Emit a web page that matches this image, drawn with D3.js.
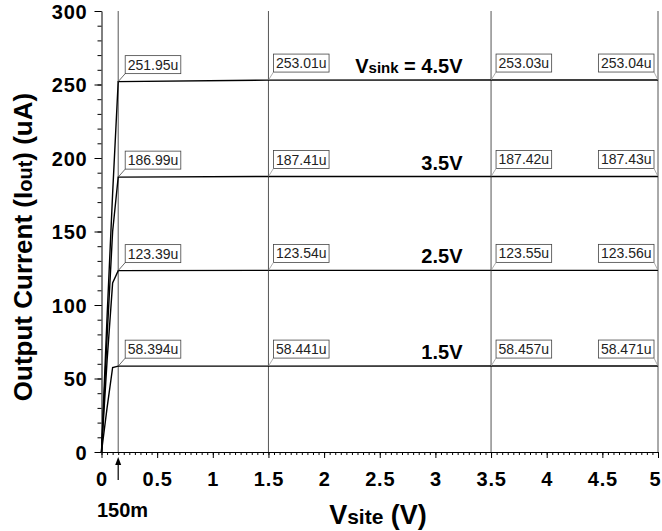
<!DOCTYPE html>
<html>
<head>
<meta charset="utf-8">
<script src="https://cdn.jsdelivr.net/npm/d3@7"></script>
<style>
  body { margin: 0; background: #fff; }
  text { font-family: Arial, "Liberation Sans", sans-serif; }
</style>
</head>
<body>
<svg id="chart" width="662" height="531"></svg>
<script>
// sweep points (V) and output current per Vsink (uA)
const vSite = [0, 0.05, 0.1, 0.15, 1.5, 3.5, 5];
const sinkNames = ["4.5V", "3.5V", "2.5V", "1.5V"];
const iSink45 = [0, 92, 176, 251.95, 253.01, 253.03, 253.04];
const iSink35 = [0, 78, 150, 186.99, 187.41, 187.42, 187.43];
const iSink25 = [0, 62, 115, 123.39, 123.54, 123.55, 123.56];
const iSink15 = [0, 30, 57.5, 58.394, 58.441, 58.457, 58.471];
const allSeries = [iSink45, iSink35, iSink25, iSink15];

// cursor positions (index into vSite)
const cursorIdx = [3, 4, 5, 6];
const xTicks = [0, 0.5, 1, 1.5, 2, 2.5, 3, 3.5, 4, 4.5, 5];
const yTicks = [0, 50, 100, 150, 200, 250, 300];

const margin = { top: 11, right: 4, bottom: 79, left: 101.5 };
const width = 662 - margin.left - margin.right;
const height = 531 - margin.top - margin.bottom;

const svg = d3.select("#chart");
const g = svg.append("g")
  .attr("transform", "translate(" + margin.left + "," + margin.top + ")");

const x = d3.scaleLinear().domain([0, 5]).range([0, width]);
const y = d3.scaleLinear().domain([0, 300]).range([height, 0]);

// cursor lines
g.selectAll(".cursor")
  .data(cursorIdx)
  .enter()
  .append("line")
    .attr("x1", d => x(vSite[d]))
    .attr("x2", d => x(vSite[d]))
    .attr("y1", 0)
    .attr("y2", height)
    .attr("stroke", "#555")
    .attr("stroke-width", 1);

// minor ticks
g.append("g")
  .attr("transform", "translate(0," + height + ")")
  .call(d3.axisBottom(x).tickValues(d3.range(0, 5.001, 0.05)).tickSize(3).tickFormat(""))
  .call(a => a.select(".domain").remove());
g.append("g")
  .call(d3.axisLeft(y).tickValues(d3.range(0, 301, 10)).tickSize(4).tickFormat(""))
  .call(a => a.select(".domain").remove());

// major axes
const xAxis = g.append("g")
  .attr("transform", "translate(0," + height + ")")
  .call(d3.axisBottom(x).tickValues(xTicks).tickFormat(d => String(d))
    .tickSize(6).tickPadding(14).tickSizeOuter(0));
const yAxis = g.append("g")
  .call(d3.axisLeft(y).tickValues(yTicks).tickFormat(d => String(d))
    .tickSize(7).tickPadding(7).tickSizeOuter(0));
[xAxis, yAxis].forEach(a => {
  a.selectAll("text")
    .attr("font-size", 20)
    .attr("font-weight", "bold")
    .attr("letter-spacing", 0.8)
    .attr("fill", "#000")
    .style("font-family", "Arial, 'Liberation Sans', sans-serif");
  a.selectAll("line, path").attr("stroke", "#000");
});
yAxis.selectAll("text").attr("dy", "0.36em");
// keep the last label inside the window
xAxis.selectAll(".tick text").filter(d => d === 5).attr("dx", -3);

// curves
const line = d3.line()
  .x((d, i) => x(vSite[i]))
  .y(d => y(d));
g.selectAll(".curve")
  .data(allSeries)
  .enter()
  .append("path")
    .attr("d", d => line(d))
    .attr("fill", "none")
    .attr("stroke", "#000")
    .attr("stroke-width", 1.4);

// cursor value boxes
const fmt = d3.format(".5r");
allSeries.forEach(series => {
  cursorIdx.forEach((ci, k) => {
    const cx = x(vSite[ci]);
    const cy = y(series[ci]);
    const label = g.append("g");
    const t = label.append("text")
      .attr("font-size", 14)
      .attr("fill", "#222")
      .text(fmt(series[ci]) + "u");
    const w = t.node().getComputedTextLength() + 5;
    const last = k === cursorIdx.length - 1;
    const bx = last ? cx - 4 - w : cx + (k === 0 ? 7 : 5);
    const by = cy - 26;
    label.insert("rect", "text")
      .attr("x", bx).attr("y", by)
      .attr("width", w).attr("height", 18)
      .attr("fill", "#fff")
      .attr("stroke", "#444")
      .attr("stroke-width", 0.8);
    t.attr("x", bx + 2.5).attr("y", by + 14);
    label.append("line")
      .attr("x1", cx).attr("y1", cy)
      .attr("x2", last ? bx + w : bx).attr("y2", by + 18)
      .attr("stroke", k === 0 ? "#444" : "#999")
      .attr("stroke-width", 0.8);
  });
});

// Vsink labels
allSeries.forEach((series, i) => {
  const t = g.append("text")
    .attr("x", 361)
    .attr("y", y(series[4]) - 7)
    .attr("text-anchor", "end")
    .attr("font-weight", "bold")
    .attr("font-size", 20);
  if (i === 0) {
    t.append("tspan").text("V");
    t.append("tspan").attr("font-size", 15).text("sink");
    t.append("tspan").text(" = " + sinkNames[i]);
  } else {
    t.text(sinkNames[i]);
  }
});

// 150m marker arrow
const ax = margin.left + x(0.15);
svg.append("line")
  .attr("x1", ax).attr("x2", ax)
  .attr("y1", 480).attr("y2", 463)
  .attr("stroke", "#000").attr("stroke-width", 1.2);
svg.append("path")
  .attr("d", "M" + ax + ",457 L" + (ax - 3) + ",465 L" + (ax + 3) + ",465 Z")
  .attr("fill", "#000");
svg.append("text")
  .attr("x", 97)
  .attr("y", 517)
  .attr("font-size", 20)
  .attr("font-weight", "bold")
  .text("150m");

// axis titles
const xt = svg.append("text")
  .attr("x", 378)
  .attr("y", 524)
  .attr("text-anchor", "middle")
  .attr("font-size", 27)
  .attr("font-weight", "bold");
xt.append("tspan").text("V");
xt.append("tspan").attr("font-size", 21).text("site");
xt.append("tspan").text(" (V)");

const yt = svg.append("text")
  .attr("transform", "translate(32,247) rotate(-90)")
  .attr("text-anchor", "middle")
  .attr("font-size", 26)
  .attr("font-weight", "bold");
yt.append("tspan").text("Output Current (I");
yt.append("tspan").attr("font-size", 20).text("out");
yt.append("tspan").text(") (uA)");
</script>
</body>
</html>
